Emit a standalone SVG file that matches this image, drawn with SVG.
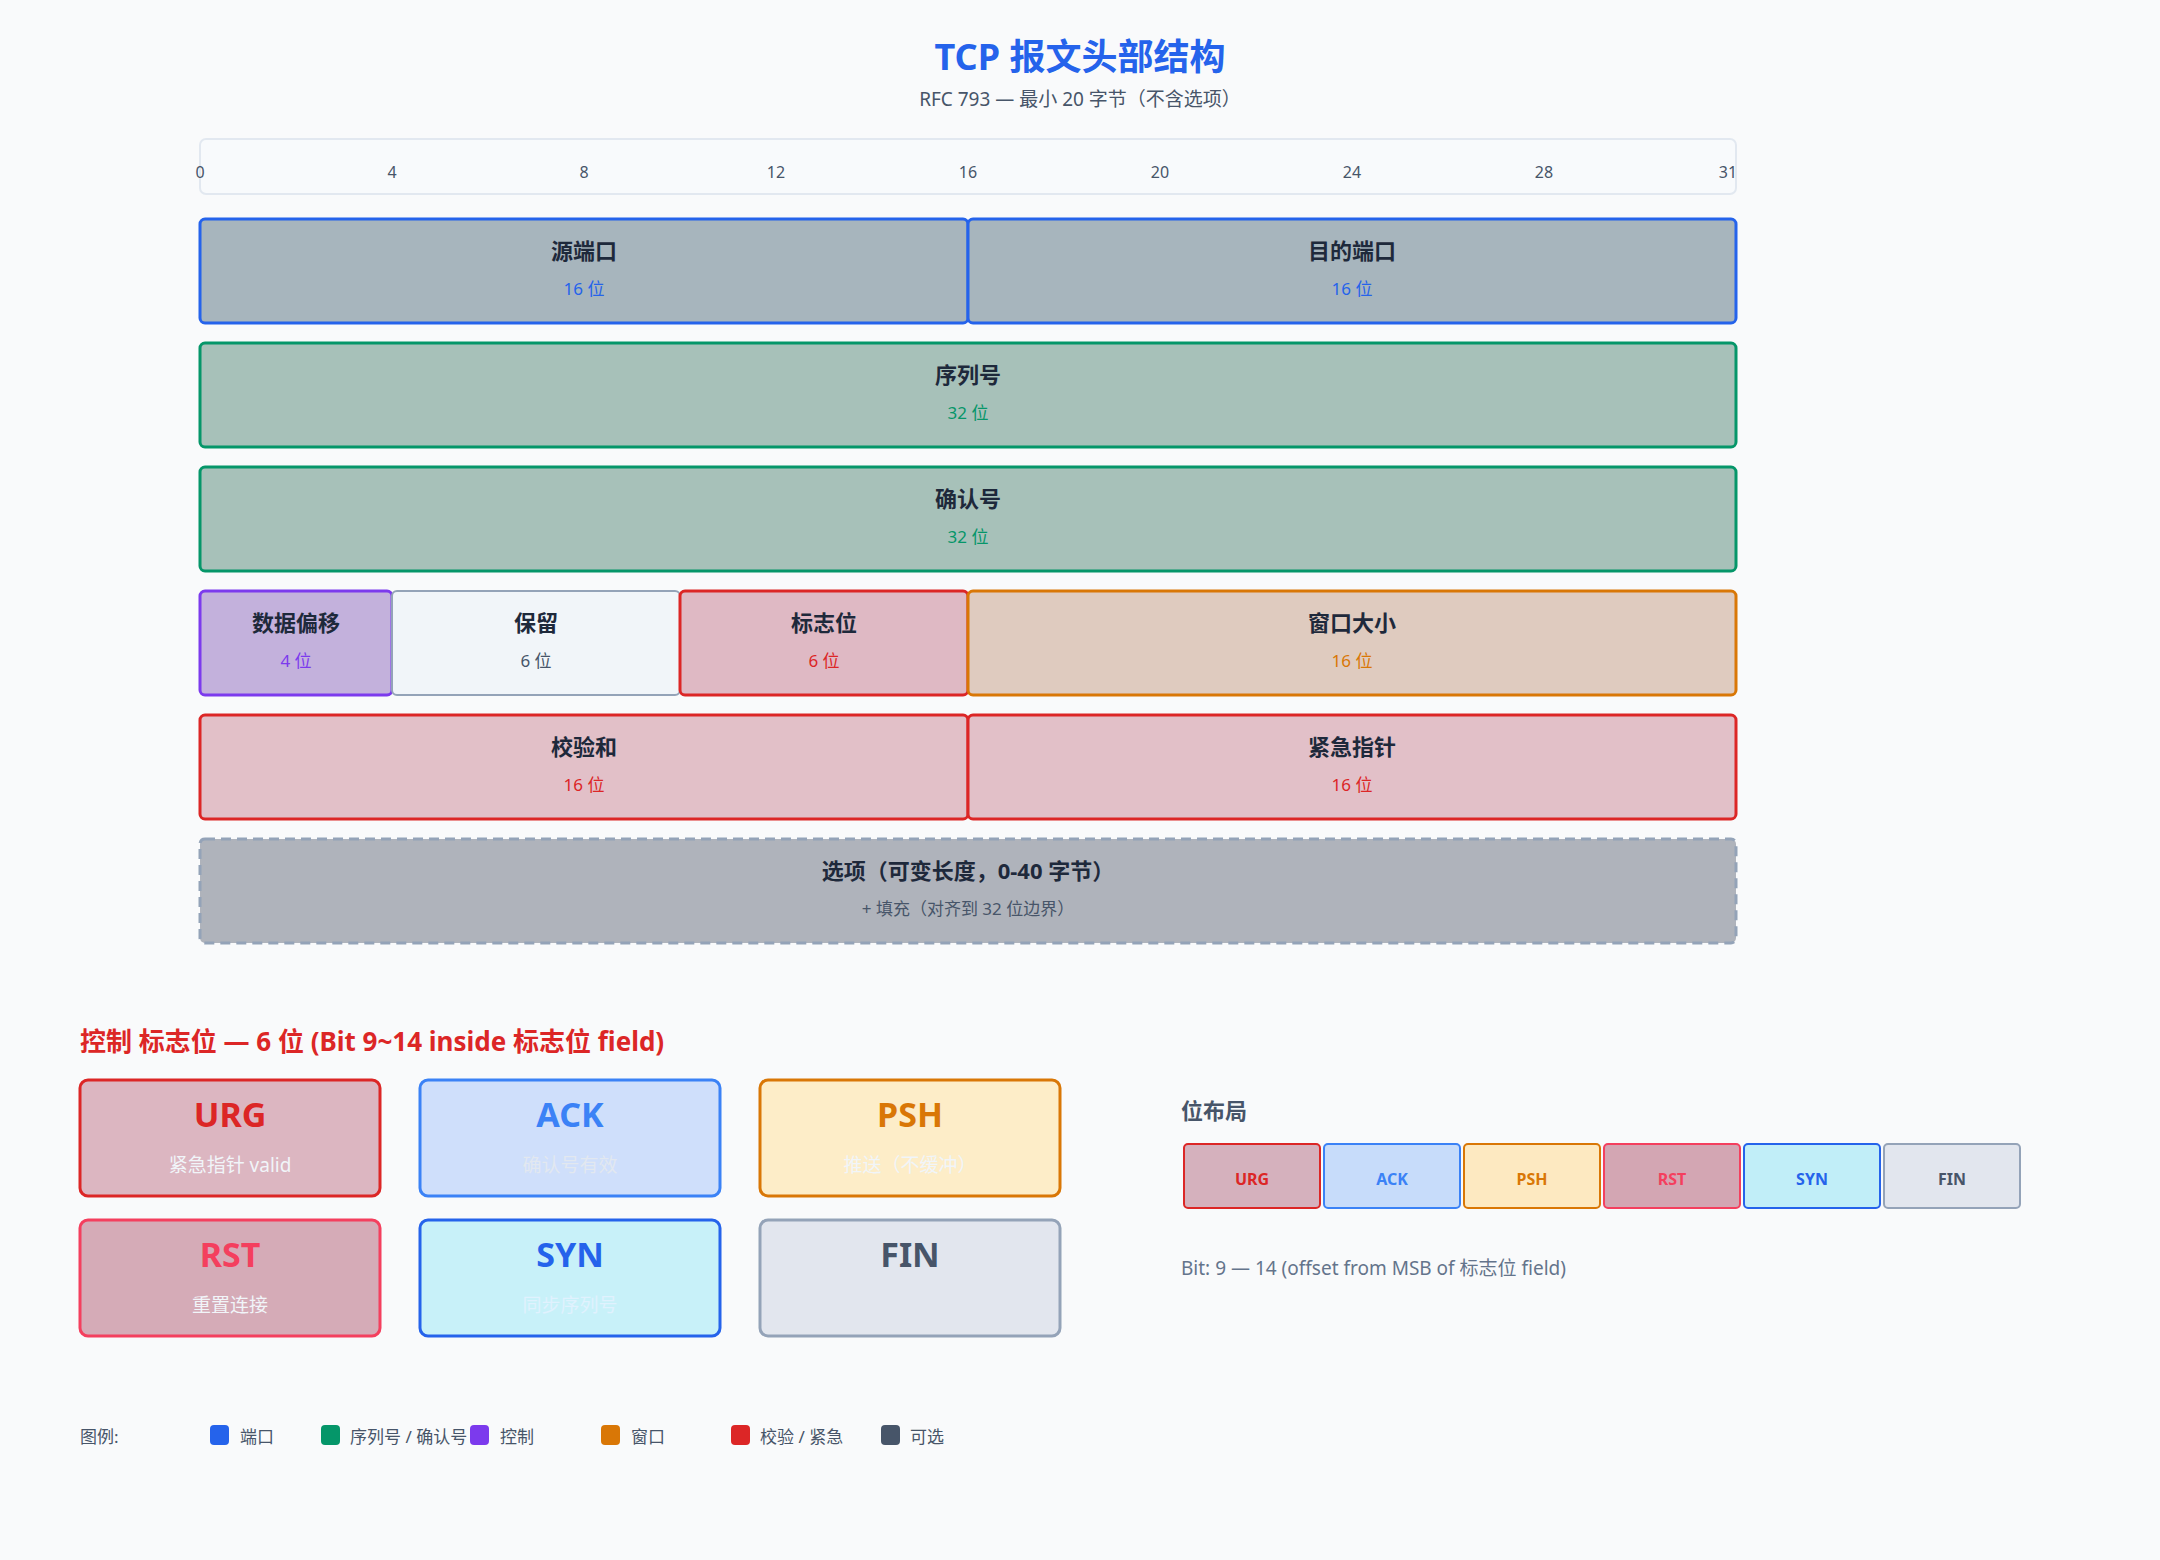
<svg xmlns="http://www.w3.org/2000/svg" width="2160" height="1560" viewBox="0 0 2160 1560">
<style>
text{font-family:"Noto Sans","Noto Sans CJK SC",sans-serif}
.n{font-size:22px;font-weight:bold;fill:#1e293b;text-anchor:middle}
.s{font-size:17px;text-anchor:middle}
.tk{font-size:16px;fill:#475569;text-anchor:middle}
.ft{font-size:34px;font-weight:bold;text-anchor:middle}
.fs{font-size:19px;text-anchor:middle}
.bl{font-size:16px;font-weight:bold;text-anchor:middle}
.lg{font-size:17px;fill:#475569}
</style>
<rect width="2160" height="1560" fill="#f9fafb"/>
<text x="1080" y="70" font-size="36" font-weight="bold" fill="#2563eb" text-anchor="middle">TCP 报文头部结构</text>
<text x="1080" y="106" font-size="19" fill="#475569" text-anchor="middle">RFC 793 — 最小 20 字节（不含选项）</text>
<g id="ruler">
<rect x="200" y="139" width="1536" height="55" rx="6" fill="#f8fafc" stroke="#e2e8f0" stroke-width="2"/>
<text class="tk" x="200" y="178">0</text><text class="tk" x="392" y="178">4</text><text class="tk" x="584" y="178">8</text><text class="tk" x="776" y="178">12</text><text class="tk" x="968" y="178">16</text><text class="tk" x="1160" y="178">20</text><text class="tk" x="1352" y="178">24</text><text class="tk" x="1544" y="178">28</text><text class="tk" x="1728" y="178">31</text>
</g>
<g id="src"><rect x="200" y="219" width="768" height="104" rx="5" fill="#a7b5bd" stroke="#2563eb" stroke-width="3"/><text class="n" x="584" y="259">源端口</text><text class="s" x="584" y="295" fill="#2563eb">16 位</text></g>
<g id="dst"><rect x="968" y="219" width="768" height="104" rx="5" fill="#a7b5bd" stroke="#2563eb" stroke-width="3"/><text class="n" x="1352" y="259">目的端口</text><text class="s" x="1352" y="295" fill="#2563eb">16 位</text></g>
<g id="seq"><rect x="200" y="343" width="1536" height="104" rx="5" fill="#a7c1b9" stroke="#059669" stroke-width="3"/><text class="n" x="968" y="383">序列号</text><text class="s" x="968" y="419" fill="#059669">32 位</text></g>
<g id="ack"><rect x="200" y="467" width="1536" height="104" rx="5" fill="#a7c1b9" stroke="#059669" stroke-width="3"/><text class="n" x="968" y="507">确认号</text><text class="s" x="968" y="543" fill="#059669">32 位</text></g>
<g id="off"><rect x="200" y="591" width="192" height="104" rx="5" fill="#c3b1dc" stroke="#7c3aed" stroke-width="3"/><text class="n" x="296" y="631" font-size="20">数据偏移</text><text class="s" x="296" y="667" fill="#7c3aed" font-size="16">4 位</text></g>
<g id="rsv"><rect x="392" y="591" width="288" height="104" rx="5" fill="#f1f5f9" stroke="#94a3b8" stroke-width="2"/><text class="n" x="536" y="631" font-size="20">保留</text><text class="s" x="536" y="667" fill="#475569" font-size="16">6 位</text></g>
<g id="flg"><rect x="680" y="591" width="288" height="104" rx="5" fill="#dfb9c4" stroke="#dc2626" stroke-width="3"/><text class="n" x="824" y="631" font-size="20">标志位</text><text class="s" x="824" y="667" fill="#dc2626" font-size="16">6 位</text></g>
<g id="win"><rect x="968" y="591" width="768" height="104" rx="5" fill="#dfcbbf" stroke="#d97706" stroke-width="3"/><text class="n" x="1352" y="631">窗口大小</text><text class="s" x="1352" y="667" fill="#d97706">16 位</text></g>
<g id="chk"><rect x="200" y="715" width="768" height="104" rx="5" fill="#e2c0c8" stroke="#dc2626" stroke-width="3"/><text class="n" x="584" y="755">校验和</text><text class="s" x="584" y="791" fill="#dc2626">16 位</text></g>
<g id="urp"><rect x="968" y="715" width="768" height="104" rx="5" fill="#e2c0c8" stroke="#dc2626" stroke-width="3"/><text class="n" x="1352" y="755">紧急指针</text><text class="s" x="1352" y="791" fill="#dc2626">16 位</text></g>
<g id="opt"><rect x="200" y="839" width="1536" height="104" rx="5" fill="#afb3bb" stroke="#94a3b8" stroke-width="3" stroke-dasharray="10 6"/><text class="n" x="968" y="879" font-size="21">选项（可变长度，0-40 字节）</text><text class="s" x="968" y="915" fill="#475569">+ 填充（对齐到 32 位边界）</text></g>
<text x="80" y="1051" font-size="26" font-weight="bold" fill="#dc2626">控制 标志位 — 6 位 (Bit 9~14 inside 标志位 field)</text>
<g id="fURG"><rect x="80" y="1080" width="300" height="116" rx="8" fill="#dcb6c1" stroke="#dc2626" stroke-width="3"/><text class="ft" x="230" y="1127" fill="#dc2626">URG</text><text class="fs" x="230" y="1172" fill="#f1f5f9">紧急指针 valid</text></g>
<g id="fACK"><rect x="420" y="1080" width="300" height="116" rx="8" fill="#cfdffb" stroke="#3b82f6" stroke-width="3"/><text class="ft" x="570" y="1127" fill="#3b82f6">ACK</text><text class="fs" x="570" y="1172" fill="#e2e8f0">确认号有效</text></g>
<g id="fPSH"><rect x="760" y="1080" width="300" height="116" rx="8" fill="#fdedc8" stroke="#d97706" stroke-width="3"/><text class="ft" x="910" y="1127" fill="#d97706">PSH</text><text class="fs" x="910" y="1172" fill="#f1f5f9">推送（不缓冲）</text></g>
<g id="fRST"><rect x="80" y="1220" width="300" height="116" rx="8" fill="#d5abb7" stroke="#f43f5e" stroke-width="3"/><text class="ft" x="230" y="1267" fill="#f43f5e">RST</text><text class="fs" x="230" y="1312" fill="#f1f5f9">重置连接</text></g>
<g id="fSYN"><rect x="420" y="1220" width="300" height="116" rx="8" fill="#c8f1f9" stroke="#2563eb" stroke-width="3"/><text class="ft" x="570" y="1267" fill="#2563eb">SYN</text><text class="fs" x="570" y="1312" fill="#e0f2fe">同步序列号</text></g>
<g id="fFIN"><rect x="760" y="1220" width="300" height="116" rx="8" fill="#e2e6ee" stroke="#94a3b8" stroke-width="3"/><text class="ft" x="910" y="1267" fill="#475569">FIN</text></g>
<text x="1181" y="1119" font-size="22" font-weight="bold" fill="#475569">位布局</text>
<g id="layout">
<rect x="1184" y="1144" width="136" height="64" rx="4" fill="#d5b1bd" stroke="#dc2626" stroke-width="2"/><text class="bl" x="1252" y="1185" fill="#dc2626">URG</text>
<rect x="1324" y="1144" width="136" height="64" rx="4" fill="#c7dcfa" stroke="#3b82f6" stroke-width="2"/><text class="bl" x="1392" y="1185" fill="#3b82f6">ACK</text>
<rect x="1464" y="1144" width="136" height="64" rx="4" fill="#fde9c1" stroke="#d97706" stroke-width="2"/><text class="bl" x="1532" y="1185" fill="#d97706">PSH</text>
<rect x="1604" y="1144" width="136" height="64" rx="4" fill="#d3a6b3" stroke="#f43f5e" stroke-width="2"/><text class="bl" x="1672" y="1185" fill="#f43f5e">RST</text>
<rect x="1744" y="1144" width="136" height="64" rx="4" fill="#c1eef8" stroke="#2563eb" stroke-width="2"/><text class="bl" x="1812" y="1185" fill="#2563eb">SYN</text>
<rect x="1884" y="1144" width="136" height="64" rx="4" fill="#e2e6ee" stroke="#94a3b8" stroke-width="2"/><text class="bl" x="1952" y="1185" fill="#475569">FIN</text>
</g>
<text x="1181" y="1275" font-size="19" fill="#64748b">Bit: 9 — 14 (offset from MSB of 标志位 field)</text>
<g id="legend">
<text class="lg" x="80" y="1443">图例:</text>
<rect x="210" y="1425" width="19" height="20" rx="4" fill="#2563eb"/><text class="lg" x="240" y="1443">端口</text>
<rect x="321" y="1425" width="19" height="20" rx="4" fill="#059669"/><text class="lg" x="350" y="1443">序列号 / 确认号</text>
<rect x="470" y="1425" width="19" height="20" rx="4" fill="#7c3aed"/><text class="lg" x="500" y="1443">控制</text>
<rect x="601" y="1425" width="19" height="20" rx="4" fill="#d97706"/><text class="lg" x="631" y="1443">窗口</text>
<rect x="731" y="1425" width="19" height="20" rx="4" fill="#dc2626"/><text class="lg" x="760" y="1443">校验 / 紧急</text>
<rect x="881" y="1425" width="19" height="20" rx="4" fill="#475569"/><text class="lg" x="910" y="1443">可选</text>
</g>
</svg>
